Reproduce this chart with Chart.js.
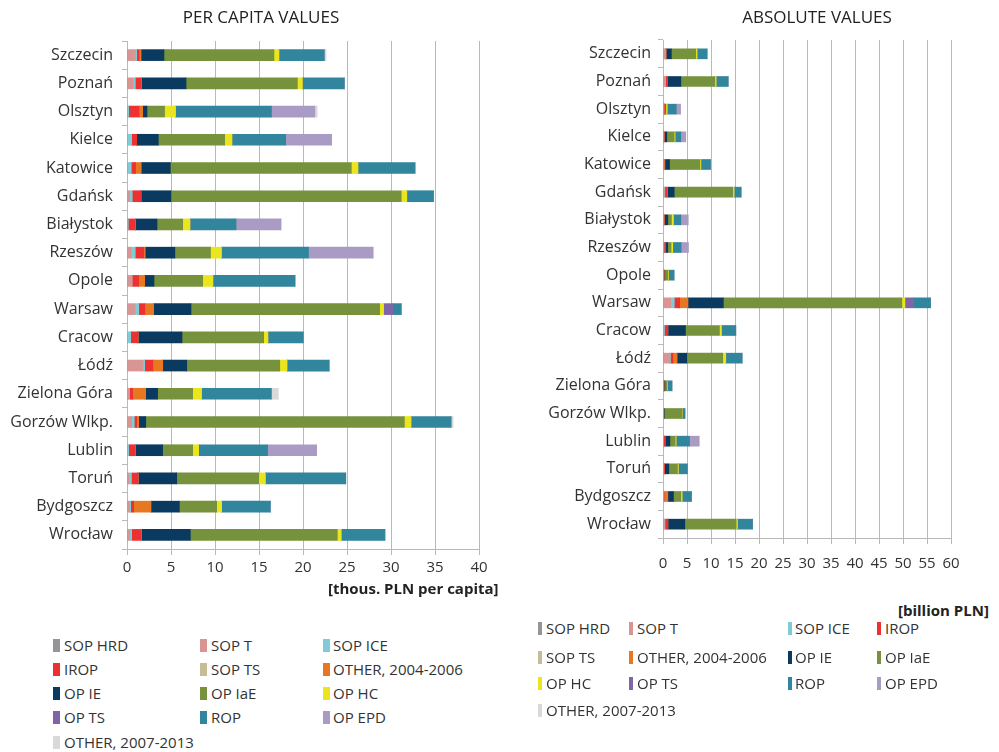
<!DOCTYPE html>
<html><head><meta charset="utf-8">
<script src="https://cdn.jsdelivr.net/npm/chart.js@4/dist/chart.umd.min.js"></script>
<style>
body{margin:0;width:999px;height:752px;background:#fff;position:relative;overflow:hidden;font-family:'Open Sans',sans-serif;color:#333}
.abs{position:absolute;white-space:nowrap;line-height:20px}
canvas{position:absolute;top:0}
.title{font-size:17px;color:#222;transform:translateX(-50%)}
.unit{font-size:15px;font-weight:700;color:#222}
.lg{position:absolute;white-space:nowrap;font-size:15px;line-height:20px;color:#333}
.bx{position:absolute}
</style></head><body>
<canvas id="c1" width="520" height="600" style="left:0"></canvas>
<canvas id="c2" width="479" height="590" style="left:520px"></canvas>
<div class="abs title" style="left:261px;top:7px">PER CAPITA VALUES</div>
<div class="abs title" style="left:817px;top:7px">ABSOLUTE VALUES</div>
<div class="abs unit" style="left:328px;top:578px">[thous. PLN per capita]</div>
<div class="abs unit" style="left:898px;top:600px">[billion PLN]</div>
<div id="leg1"></div><div id="leg2"></div>
<script>
const cities = ['Szczecin','Poznań','Olsztyn','Kielce','Katowice','Gdańsk','Białystok','Rzeszów','Opole','Warsaw','Cracow','Łódź','Zielona Góra','Gorzów Wlkp.','Lublin','Toruń','Bydgoszcz','Wrocław'];
const seriesNames = ['SOP HRD','SOP T','SOP ICE','IROP','SOP TS','OTHER, 2004-2006','OP IE','OP IaE','OP HC','OP TS','ROP','OP EPD','OTHER, 2007-2013'];
const seriesColors = ['#939598','#d99594','#7fcbd6','#ed3030','#c4bd97','#e87722','#0b3a60','#76923c','#ebe51e','#7f64a8','#31859c','#a99bc3','#d9d9d9'];
const perCapitaMax = 40;
const absoluteMax = 60;
const tickStep = 5;

// PER CAPITA VALUES [thous. PLN per capita], city order as in `cities`
const pcSopHrd  = [0,0,0,0,0,0,0,0,0,0,0,0,0,0,0,0,0,0];
const pcSopT    = [0.95,0.68,0,0,0,0.3,0,0.45,0.57,0.91,0,1.82,0.3,0.53,0,0.23,0.27,0.3];
const pcSopIce  = [0.15,0.27,0.19,0.53,0.49,0.3,0.15,0.49,0,0.42,0.42,0.19,0,0.3,0.19,0.27,0.15,0.23];
const pcIrop    = [0.3,0.68,1.21,0.57,0.49,0.98,0.8,0.98,0.76,0.72,0.83,0.95,0.34,0.27,0.76,0.76,0.34,1.1];
const pcSopTs   = [0,0,0,0,0,0,0,0,0,0,0,0,0,0,0,0,0,0];
const pcOther06 = [0.2,0,0.38,0,0.64,0,0,0.15,0.68,0.98,0,1.1,1.48,0.23,0,0,1.97,0];
const pcOpIe    = [2.6,5.08,0.49,2.46,3.3,3.41,2.46,3.37,1.06,4.24,5.0,2.73,1.36,0.8,3.1,4.39,3.22,5.57];
const pcOpIae   = [12.5,12.65,2.0,7.54,20.57,26.17,2.92,4.05,5.53,21.44,9.28,10.57,3.98,29.39,3.41,9.32,4.24,16.7];
const pcOpHc    = [0.57,0.57,1.25,0.83,0.76,0.64,0.83,1.25,1.17,0.45,0.49,0.83,1.02,0.76,0.68,0.76,0.57,0.45];
const pcOpTs    = [0,0,0,0,0,0,0,0,0,1.02,0,0,0,0,0,0,0,0];
const pcRop     = [5.15,4.77,10.9,6.1,6.48,3.03,5.23,9.89,9.32,0.98,4.02,4.77,7.92,4.55,7.84,9.13,5.53,4.96];
const pcOpEpd   = [0,0,4.92,5.23,0,0,5.11,7.31,0,0,0,0,0,0,5.57,0,0,0];
const pcOther13 = [0.2,0,0.27,0,0,0,0,0.1,0,0,0,0.08,0.8,0.23,0,0,0,0];

// ABSOLUTE VALUES [billion PLN]
const abSopHrd  = [0,0,0,0,0,0,0,0,0,0,0,0,0,0,0,0,0,0];
const abSopT    = [0.4,0.42,0.03,0,0,0.28,0,0.1,0.07,1.6,0,1.46,0.03,0.07,0,0.05,0.1,0.3];
const abSopIce  = [0.1,0.1,0.03,0.1,0.1,0.1,0.04,0.1,0,0.76,0.3,0.1,0,0.04,0.05,0.06,0.04,0.1];
const abIrop    = [0.1,0.42,0.2,0.14,0.1,0.49,0.2,0.2,0.09,1.11,0.7,0.55,0.04,0.03,0.35,0.2,0.1,0.6];
const abSopTs   = [0,0,0,0,0,0,0,0,0,0,0,0,0,0,0,0,0,0];
const abOther06 = [0.05,0,0.06,0,0.2,0,0,0.03,0.08,1.74,0,0.83,0.17,0.03,0,0,0.77,0];
const abOpIe    = [1.1,2.78,0.08,0.55,0.97,1.46,0.76,0.55,0.13,7.36,3.68,2.01,0.15,0.1,1.04,0.9,1.18,3.54];
const abOpIae   = [5.07,7.08,0.2,1.53,6.32,12.2,0.76,0.7,0.67,37.2,7.08,7.5,0.45,3.65,1.1,1.8,1.53,10.7];
const abOpHc    = [0.28,0.28,0.28,0.2,0.21,0.28,0.42,0.35,0.14,0.63,0.42,0.63,0.12,0.09,0.21,0.2,0.28,0.28];
const abOpTs    = [0,0,0,0,0,0,0,0,0,1.8,0,0,0,0,0,0,0,0];
const abRop     = [2.08,2.5,1.88,1.18,2.0,1.46,1.53,1.74,1.12,3.54,2.99,3.4,0.9,0.56,2.78,1.88,1.94,3.13];
const abOpEpd   = [0,0,0.9,1.04,0,0,1.53,1.53,0,0,0,0,0,0,2.0,0,0,0];
const abOther13 = [0.04,0,0.03,0,0,0,0,0,0,0,0,0,0.09,0.03,0,0,0,0];

const perCapitaSeries = [pcSopHrd,pcSopT,pcSopIce,pcIrop,pcSopTs,pcOther06,pcOpIe,pcOpIae,pcOpHc,pcOpTs,pcRop,pcOpEpd,pcOther13];
const absoluteSeries  = [abSopHrd,abSopT,abSopIce,abIrop,abSopTs,abOther06,abOpIe,abOpIae,abOpHc,abOpTs,abRop,abOpEpd,abOther13];

const gridCol = '#b9b9b9';
function makeChart(id, series, cfg){
  return new Chart(document.getElementById(id), {
    type:'bar',
    data:{labels:cities, datasets:seriesNames.map((n,i)=>({label:n,data:series[i],backgroundColor:seriesColors[i],borderWidth:0,barThickness:cfg.bar}))},
    options:{
      indexAxis:'y', responsive:false, animation:false,
      layout:{padding:{top:cfg.top,right:cfg.right,left:0,bottom:0}},
      plugins:{legend:{display:false},tooltip:{enabled:false},title:{display:false}},
      scales:{
        x:{stacked:true,min:0,max:cfg.max,
           ticks:{stepSize:tickStep,autoSkip:false,maxRotation:0,color:'#333',font:{family:'Open Sans',size:15},padding:cfg.xpad},
           grid:{color:gridCol,tickLength:6}, border:{color:gridCol},
           afterFit:s=>{s.height=cfg.xh;}},
        y:{stacked:true,
           ticks:{autoSkip:false,color:'#333',font:{family:'Open Sans',size:16},padding:cfg.ypad},
           grid:{drawOnChartArea:false,color:gridCol,tickLength:5}, border:{color:gridCol},
           afterFit:s=>{s.width=cfg.yw;}}
      }
    }
  });
}
makeChart('c1', perCapitaSeries, {max:perCapitaMax, top:41, right:41, xh:51, yw:127, ypad:9, xpad:4, bar:11});
makeChart('c2', absoluteSeries,  {max:absoluteMax,  top:40, right:48, xh:52, yw:143, ypad:7, xpad:11, bar:10});

function buildLegend(elId, cols, boxXs, textOffs, rowYs, boxW){
  const el = document.getElementById(elId);
  seriesNames.forEach((n,i)=>{
    const c = i % cols, r = Math.floor(i / cols);
    const b = document.createElement('div');
    b.className='bx';
    b.style.cssText=`left:${boxXs[c]}px;top:${rowYs[r]-6}px;width:${boxW}px;height:13px;background:${seriesColors[i]}`;
    el.appendChild(b);
    const t = document.createElement('div');
    t.className='lg';
    t.style.left=(boxXs[c]+textOffs[c])+'px';
    t.style.top=(rowYs[r]-10)+'px';
    t.textContent=n;
    el.appendChild(t);
  });
}
buildLegend('leg1', 3, [53,200,323], [11,11,10], [645,669,693,717,742], 7);
buildLegend('leg2', 4, [538,629,788,877], [8,8,7,8], [628,657,683,710], 4);
</script>
</body></html>
